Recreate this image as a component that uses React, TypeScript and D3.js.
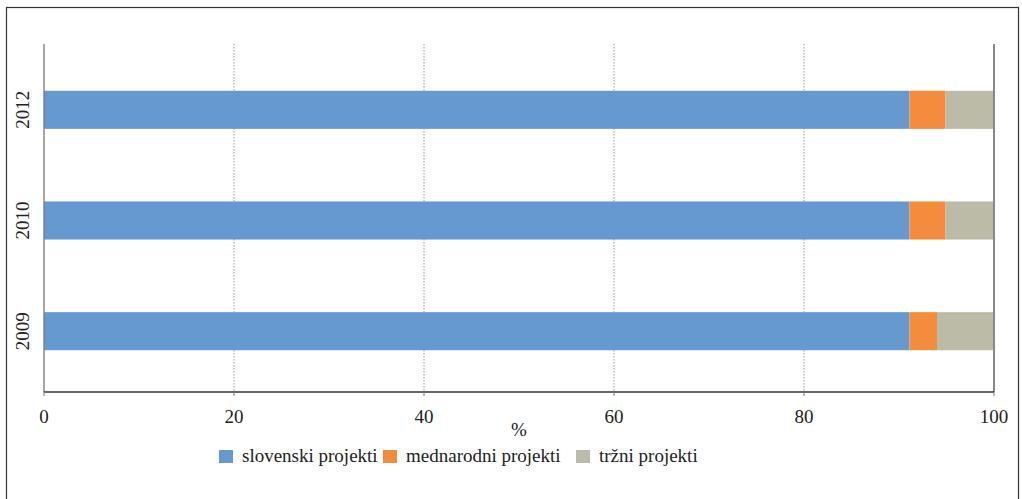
import React from "react";
import * as d3 from "d3";

const years = ["2012", "2010", "2009"];
const slovenski = [91.1, 91.1, 91.1];
const mednarodni = [3.8, 3.8, 2.9];
const trzni = [5.1, 5.1, 6.0];
const seriesNames = ["slovenski projekti", "mednarodni projekti", "tržni projekti"];
const seriesColors = ["#6699D0", "#F48C3E", "#BCBBA7"];
const xTicks = [0, 20, 40, 60, 80, 100];

const W = 1022;
const H = 499;
const FONT = "'Liberation Serif', 'DejaVu Serif', serif";

export default function App() {
  const x = d3.scaleLinear().domain([0, 100]).range([44, 994]);
  const y = d3
    .scaleBand<string>()
    .domain(years)
    .range([46.5, 394.5])
    .paddingInner(0.656)
    .paddingOuter(0.4);

  const data = years.map((yr, i) => ({ yr, "0": slovenski[i], "1": mednarodni[i], "2": trzni[i] }));
  const stacked = d3.stack<any>().keys(["0", "1", "2"])(data as any);

  const legendX = [219, 383, 576];

  return (
    <svg width={W} height={H} style={{ position: "absolute", left: 0, top: 0 }}>
      <rect x={6.5} y={7.5} width={1012} height={520} fill="#fff" stroke="#333" strokeWidth={1.2} />
      {xTicks.slice(1, -1).map((t) => (
        <line key={t} x1={x(t)} x2={x(t)} y1={44} y2={392} stroke="#999" strokeWidth={1} strokeDasharray="1.5 1.5" />
      ))}
      {stacked.map((s, si) =>
        s.map((d, di) => (
          <rect
            key={si + "-" + di}
            x={x(d[0])}
            width={x(d[1]) - x(d[0])}
            y={y(data[di].yr)}
            height={y.bandwidth()}
            fill={seriesColors[si]}
          />
        ))
      )}
      <line x1={44} x2={44} y1={44} y2={392} stroke="#777" strokeWidth={1.3} />
      <line x1={994} x2={994} y1={44} y2={392} stroke="#888" strokeWidth={2} />
      <line x1={44} x2={994} y1={392} y2={392} stroke="#333" strokeWidth={1.3} />
      {xTicks.map((t) => (
        <g key={t}>
          <line x1={x(t)} x2={x(t)} y1={392} y2={396} stroke="#777" strokeWidth={1} />
          <text x={x(t)} y={423} textAnchor="middle" fontFamily={FONT} fontSize={19} fill="#222">
            {t}
          </text>
        </g>
      ))}
      <text x={519} y={436} textAnchor="middle" fontFamily={FONT} fontSize={19} fill="#222">%</text>
      {years.map((yr) => (
        <text
          key={yr}
          transform={`translate(${29},${(y(yr) as number) + y.bandwidth() / 2}) rotate(-90)`}
          textAnchor="middle"
          fontFamily={FONT}
          fontSize={19}
          fill="#222"
        >
          {yr}
        </text>
      ))}
      {seriesNames.map((n, i) => (
        <g key={n}>
          <rect x={legendX[i]} y={450} width={14} height={13} fill={seriesColors[i]} />
          <text x={legendX[i] + 23} y={462} fontFamily={FONT} fontSize={19} fill="#222">
            {n}
          </text>
        </g>
      ))}
    </svg>
  );
}
